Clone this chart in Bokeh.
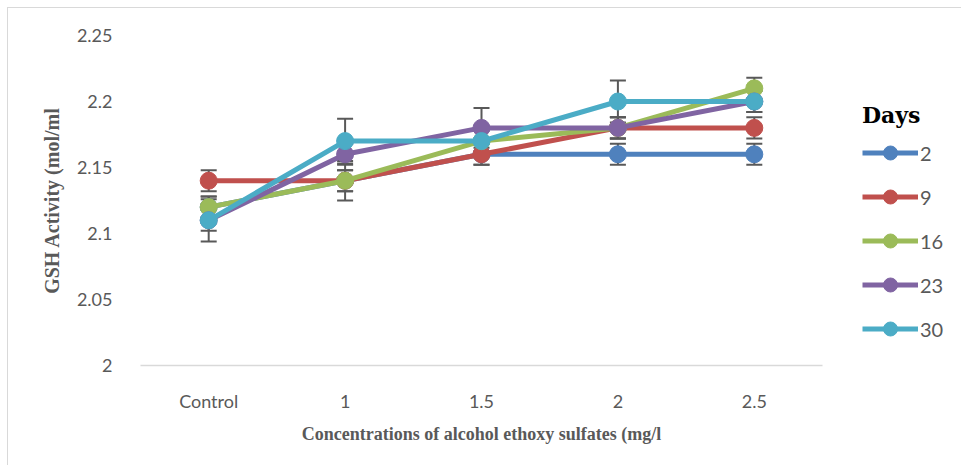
from bokeh.plotting import figure
from bokeh.models import ColumnDataSource, Whisker, Legend, LegendItem, FixedTicker, TeeHead
from bokeh.embed import file_html
from bokeh.resources import INLINE

categories = ["Control", "1", "1.5", "2", "2.5"]
days = ["2", "9", "16", "23", "30"]
day2 = [2.12, 2.14, 2.16, 2.16, 2.16]
day9 = [2.14, 2.14, 2.16, 2.18, 2.18]
day16 = [2.12, 2.14, 2.17, 2.18, 2.21]
day23 = [2.11, 2.16, 2.18, 2.18, 2.20]
day30 = [2.11, 2.17, 2.17, 2.20, 2.20]
err2 = [0.008, 0.008, 0.008, 0.008, 0.008]
err9 = [0.008, 0.008, 0.008, 0.008, 0.008]
err16 = [0.008, 0.015, 0.008, 0.008, 0.008]
err23 = [0.008, 0.008, 0.015, 0.008, 0.008]
err30 = [0.016, 0.017, 0.008, 0.016, 0.008]
y_ticks = [2.0, 2.05, 2.1, 2.15, 2.2, 2.25]
y_tick_labels = ["2", "2.05", "2.1", "2.15", "2.2", "2.25"]
colors = ["#4F81BD", "#C0504D", "#9BBB59", "#8064A2", "#4BACC6"]

series = [day2, day9, day16, day23, day30]
errors = [err2, err9, err16, err23, err30]

p = figure(x_range=categories, y_range=(2.0, 2.25), frame_width=682, frame_height=330,
           output_backend="svg", toolbar_location=None,
           min_border_left=132, min_border_right=0, min_border_top=27, min_border_bottom=100)
p.styles = {"margin-left": "7px", "margin-top": "7px",
            "border-left": "1px solid #D9D9D9", "border-top": "1px solid #D9D9D9"}
p.outline_line_color = None
p.xgrid.grid_line_color = None
p.ygrid.grid_line_color = None
p.x_range.range_padding = 0

tick_font = "Lato"
p.yaxis.ticker = FixedTicker(ticks=y_ticks)
p.yaxis.major_label_overrides = {t: l for t, l in zip(y_ticks, y_tick_labels)}
p.yaxis.axis_line_color = None
p.yaxis.major_tick_line_color = None
p.yaxis.minor_tick_line_color = None
p.yaxis.major_label_text_font = tick_font
p.yaxis.major_label_text_font_size = "18px"
p.yaxis.major_label_text_color = "#595959"
p.yaxis.major_label_standoff = 22
p.yaxis.axis_label = "GSH Activity (mol/ml"
p.yaxis.axis_label_text_font = "Liberation Serif"
p.yaxis.axis_label_text_font_style = "bold"
p.yaxis.axis_label_text_font_size = "20px"
p.yaxis.axis_label_text_color = "#595959"
p.yaxis.axis_label_standoff = 11

p.xaxis.axis_line_color = "#D9D9D9"
p.xaxis.axis_line_width = 1.5
p.xaxis.major_tick_line_color = None
p.xaxis.minor_tick_line_color = None
p.xaxis.major_label_text_font = tick_font
p.xaxis.major_label_text_font_size = "18px"
p.xaxis.major_label_text_color = "#595959"
p.xaxis.major_label_standoff = 18
p.xaxis.axis_label = "Concentrations of alcohol ethoxy sulfates (mg/l"
p.xaxis.axis_label_text_font = "Liberation Serif"
p.xaxis.axis_label_text_font_style = "bold"
p.xaxis.axis_label_text_font_size = "18px"
p.xaxis.axis_label_text_color = "#595959"
p.xaxis.axis_label_standoff = 9

items = []
for name, vals, errs, col in zip(days, series, errors, colors):
    src = ColumnDataSource(dict(x=categories, y=vals,
                                upper=[v + e for v, e in zip(vals, errs)],
                                lower=[v - e for v, e in zip(vals, errs)]))
    w = Whisker(source=src, base="x", upper="upper", lower="lower",
                line_color="#595959", line_width=2,
                upper_head=TeeHead(size=16, line_color="#595959", line_width=2),
                lower_head=TeeHead(size=16, line_color="#595959", line_width=2))
    p.add_layout(w)

for name, vals, errs, col in zip(days, series, errors, colors):
    src = ColumnDataSource(dict(x=categories, y=vals))
    l = p.line("x", "y", source=src, line_color=col, line_width=5)
    s = p.scatter("x", "y", source=src, size=17, fill_color=col, line_color=col)
    items.append(LegendItem(label=name, renderers=[l, s]))

legend = Legend(items=items, location=(40, 19))
legend.title = "Days"
legend.title_text_font = "DejaVu Serif"
legend.title_text_font_style = "bold"
legend.title_text_font_size = "22px"
legend.title_text_color = "#000000"
legend.title_standoff = 7
legend.label_text_font = tick_font
legend.label_text_font_size = "20px"
legend.label_text_color = "#595959"
legend.glyph_width = 56
legend.glyph_height = 35
legend.label_height = 20
legend.label_standoff = 2
legend.spacing = 9
legend.padding = 0
legend.margin = 40
legend.border_line_color = None
legend.background_fill_alpha = 0
p.add_layout(legend, "right")

open("out.html", "w").write(file_html(p, INLINE))
